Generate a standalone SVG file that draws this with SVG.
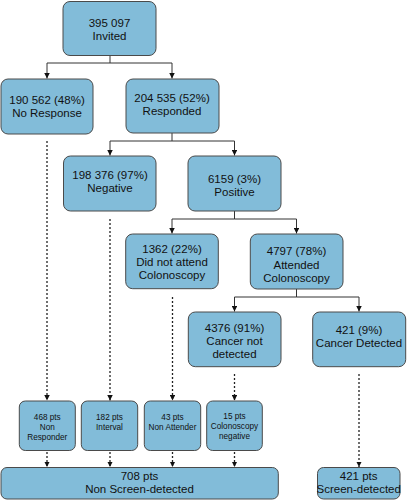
<svg xmlns="http://www.w3.org/2000/svg" width="407" height="500" viewBox="0 0 407 500">
<defs>
<marker id="ah" viewBox="0 0 10 10" refX="10" refY="5" markerWidth="5.5" markerHeight="5.5" markerUnits="userSpaceOnUse" orient="auto">
<path d="M0,0 L10,5 L0,10 Z" fill="#111"/>
</marker>
</defs>
<style>
.box{fill:#82bcd9;stroke:#4a4a4a;stroke-width:1}
.t{font-family:"Liberation Sans",Arial,sans-serif;font-size:11.5px;fill:#111;text-anchor:middle}
.s{font-family:"Liberation Sans",Arial,sans-serif;font-size:8.2px;fill:#111;text-anchor:middle}
.c{fill:none;stroke:#333;stroke-width:1}
.d{fill:none;stroke:#222;stroke-width:1.3;stroke-dasharray:2 2}
</style>
<g id="connectors">
<path class="c" d="M110,55.5 V63 H47 V78.5" marker-end="url(#ah)"/>
<path class="c" d="M110,63 H172 V78.5" marker-end="url(#ah)"/>
<path class="c" d="M172,133 V141 H110 V155.5" marker-end="url(#ah)"/>
<path class="c" d="M172,141 H234.5 V155.5" marker-end="url(#ah)"/>
<path class="c" d="M234.5,211 V219 H172 V233.5" marker-end="url(#ah)"/>
<path class="c" d="M234.5,219 H296.5 V233.5" marker-end="url(#ah)"/>
<path class="c" d="M296.5,289 V297 H234.5 V311.5" marker-end="url(#ah)"/>
<path class="c" d="M296.5,297 H359 V311.5" marker-end="url(#ah)"/>
<path class="d" d="M47,141 V400.5" marker-end="url(#ah)"/>
<path class="d" d="M110,219 V400.5" marker-end="url(#ah)"/>
<path class="d" d="M172.5,297 V400.5" marker-end="url(#ah)"/>
<path class="d" d="M234.5,374 V400.5" marker-end="url(#ah)"/>
<path class="d" d="M359,374 V467" marker-end="url(#ah)"/>
<path class="d" d="M47,452 V467" marker-end="url(#ah)"/>
<path class="d" d="M110,452 V467" marker-end="url(#ah)"/>
<path class="d" d="M172.5,452 V467" marker-end="url(#ah)"/>
<path class="d" d="M234.5,452 V467" marker-end="url(#ah)"/>
</g>
<g id="invited">
<rect class="box" x="63" y="1.5" width="93" height="54" rx="7"/>
<text class="t" x="109.5" y="26.5">395 097</text>
<text class="t" x="109.5" y="39.5">Invited</text>
</g>
<g id="no-response">
<rect class="box" x="1" y="79" width="92" height="55" rx="7"/>
<text class="t" x="47" y="104">190 562 (48%)</text>
<text class="t" x="47" y="117">No Response</text>
</g>
<g id="responded">
<rect class="box" x="126" y="79" width="93" height="54" rx="7"/>
<text class="t" x="172" y="102">204 535 (52%)</text>
<text class="t" x="172" y="115">Responded</text>
</g>
<g id="negative">
<rect class="box" x="63.5" y="156" width="92.5" height="55" rx="7"/>
<text class="t" x="110" y="179">198 376 (97%)</text>
<text class="t" x="110" y="192">Negative</text>
</g>
<g id="positive">
<rect class="box" x="188" y="156" width="93" height="55" rx="7"/>
<text class="t" x="234.5" y="183">6159 (3%)</text>
<text class="t" x="234.5" y="196">Positive</text>
</g>
<g id="did-not-attend">
<rect class="box" x="125.7" y="234" width="92.6" height="54.7" rx="7"/>
<text class="t" x="172" y="253">1362 (22%)</text>
<text class="t" x="172" y="266">Did not attend</text>
<text class="t" x="172" y="279">Colonoscopy</text>
</g>
<g id="attended">
<rect class="box" x="250.3" y="234" width="92.7" height="55" rx="7"/>
<text class="t" x="296.5" y="255">4797 (78%)</text>
<text class="t" x="296.5" y="268.5">Attended</text>
<text class="t" x="296.5" y="282">Colonoscopy</text>
</g>
<g id="cancer-not-detected">
<rect class="box" x="188.3" y="312" width="92.7" height="54.7" rx="7"/>
<text class="t" x="234.5" y="332">4376 (91%)</text>
<text class="t" x="234.5" y="345">Cancer not</text>
<text class="t" x="234.5" y="358">detected</text>
</g>
<g id="cancer-detected">
<rect class="box" x="312.7" y="312" width="93" height="54.7" rx="7"/>
<text class="t" x="359" y="333.5">421 (9%)</text>
<text class="t" x="359" y="346.5">Cancer Detected</text>
</g>
<g id="non-responder">
<rect class="box" x="19.3" y="401" width="56" height="49.5" rx="6"/>
<text class="s" x="47.3" y="419.5">468 pts</text>
<text class="s" x="47.3" y="429.5">Non</text>
<text class="s" x="47.3" y="439.5">Responder</text>
</g>
<g id="interval">
<rect class="box" x="81.3" y="401" width="56.4" height="49.5" rx="6"/>
<text class="s" x="109.5" y="419.5">182 pts</text>
<text class="s" x="109.5" y="429.5">Interval</text>
</g>
<g id="non-attender">
<rect class="box" x="144.3" y="401" width="56.4" height="49.5" rx="6"/>
<text class="s" x="172.5" y="419.5">43 pts</text>
<text class="s" x="172.5" y="429.5">Non Attender</text>
</g>
<g id="colonoscopy-negative">
<rect class="box" x="206.7" y="401" width="55.6" height="49.5" rx="6"/>
<text class="s" x="234.5" y="418.5">15 pts</text>
<text class="s" x="234.5" y="428.5">Colonoscopy</text>
<text class="s" x="234.5" y="438.5">negative</text>
</g>
<g id="non-screen-detected">
<rect class="box" x="1" y="467.5" width="277.3" height="31.5" rx="6"/>
<text class="t" x="139.5" y="480">708 pts</text>
<text class="t" x="139.5" y="493">Non Screen-detected</text>
</g>
<g id="screen-detected">
<rect class="box" x="317.5" y="467.5" width="82.5" height="31.5" rx="6"/>
<text class="t" x="358.7" y="479.5">421 pts</text>
<text class="t" x="358.7" y="493">Screen-detected</text>
</g>
</svg>
